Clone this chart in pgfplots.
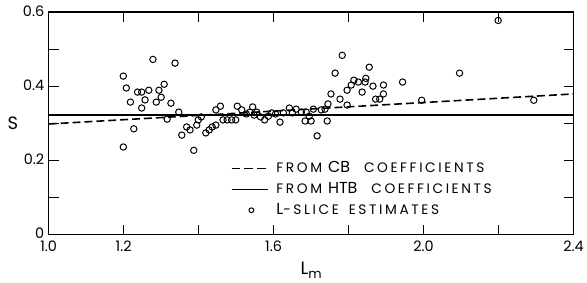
\documentclass[border=0pt]{standalone}
\usepackage{fontspec}
\setmainfont{Poppins}
\newfontfamily\legsmall[LetterSpace=19]{Poppins}
\usepackage{pgfplots}
\pgfplotsset{compat=1.18}
\newcommand{\sm}[1]{{\legsmall\fontsize{13.8bp}{13.8bp}\selectfont #1}}
\newcommand{\bg}[1]{{\fontsize{16bp}{16bp}\selectfont #1}}
\begin{document}
\begin{tikzpicture}
\path (-49bp,-48bp) rectangle (538bp,236bp);
\begin{axis}[
  at={(0,0)}, anchor=south west,
  scale only axis, width=528bp, height=224bp,
  xmin=1, xmax=2.4, ymin=0, ymax=0.6,
  axis line style={line width=1.4bp},
  xtick={1.0,1.2,1.4,1.6,1.8,2.0,2.2,2.4},
  xticklabels={1.0,1.2,,1.6,,2.0,,2.4},
  ytick={0,0.1,0.2,0.3,0.4,0.5,0.6},
  yticklabels={0,,0.2,,0.4,,0.6},
  major tick length=10bp,
  tick style={line width=1bp, black},
  tick align=inside,
  ticklabel style={font=\fontsize{14.5bp}{14.5bp}\selectfont},
  xticklabel style={yshift=-3bp},
  yticklabel style={xshift=-1bp, yshift=1bp},
  every axis y label/.style={at={(axis description cs:0,0.5)}, anchor=center, xshift=-36bp},
  every axis x label/.style={at={(axis description cs:0.5,0)}, anchor=north, yshift=-24bp},
  ylabel={\fontsize{18bp}{18bp}\selectfont S},
  xlabel={\fontsize{18bp}{18bp}\selectfont L\raisebox{-0.45ex}{\fontsize{13bp}{13bp}\selectfont m}},
  legend style={at={(axis cs:1.485,0.196)}, anchor=north west, draw=none, fill=none,
    inner sep=0pt, row sep=8bp, column sep=0pt,
    nodes={inner sep=0pt, text height=11bp, text depth=2bp, anchor=west}},
  legend cell align=left,
]
\addplot[black, line width=1.6bp, dash pattern=on 8bp off 4bp, forget plot] coordinates {(1.0,0.298) (2.4,0.379)};
\addplot[black, line width=1.7bp, forget plot] coordinates {(1.0,0.322) (2.4,0.322)};
\addplot[only marks, mark=o, mark size=3.2bp, mark options={black, line width=1bp}, forget plot] table {
x y
1.199 0.427
1.207 0.395
1.218 0.357
1.227 0.285
1.199 0.236
1.237 0.384
1.248 0.384
1.248 0.341
1.257 0.363
1.267 0.389
1.278 0.472
1.287 0.357
1.294 0.389
1.300 0.370
1.308 0.405
1.316 0.311
1.326 0.354
1.337 0.462
1.347 0.330
1.355 0.268
1.368 0.290
1.377 0.282
1.387 0.227
1.395 0.295
1.399 0.309
1.407 0.317
1.419 0.274
1.428 0.282
1.436 0.290
1.446 0.295
1.446 0.336
1.458 0.346
1.465 0.309
1.476 0.309
1.488 0.309
1.499 0.309
1.503 0.346
1.515 0.336
1.527 0.325
1.537 0.330
1.544 0.344
1.548 0.322
1.555 0.330
1.565 0.317
1.576 0.309
1.586 0.319
1.595 0.328
1.605 0.325
1.617 0.303
1.626 0.328
1.642 0.341
1.650 0.328
1.660 0.338
1.674 0.330
1.684 0.306
1.687 0.330
1.695 0.319
1.700 0.306
1.706 0.338
1.716 0.266
1.727 0.336
1.737 0.338
1.743 0.306
1.745 0.352
1.753 0.379
1.764 0.435
1.777 0.365
1.783 0.483
1.796 0.389
1.796 0.349
1.807 0.403
1.814 0.416
1.826 0.411
1.836 0.384
1.844 0.411
1.846 0.421
1.855 0.451
1.865 0.400
1.872 0.365
1.883 0.365
1.893 0.379
1.893 0.403
1.944 0.411
1.995 0.362
2.096 0.435
2.199 0.577
2.294 0.362
};
\addlegendimage{legend image code/.code={\draw[black, line width=1.5bp, dash pattern=on 9bp off 4bp] (0bp,0bp) -- (37bp,0bp); \path (45bp,0bp);}}
\addlegendentry{\sm{FROM}\hspace{6bp}\bg{CB}\hspace{14bp}\sm{COEFFICIENTS}}
\addlegendimage{legend image code/.code={\draw[black, line width=1.6bp] (0bp,0bp) -- (37bp,0bp); \path (45bp,0bp);}}
\addlegendentry{\sm{FROM}\hspace{6bp}\bg{HTB}\hspace{14bp}\sm{COEFFICIENTS}}
\addlegendimage{legend image code/.code={\draw[black, line width=1bp, mark=o, mark size=2.4bp] plot coordinates {(20bp,0bp)}; \path (0bp,0bp) (45bp,0bp);}}
\addlegendentry{\bg{L}\sm{-SLICE}\hspace{10bp}\sm{ESTIMATES}}
\end{axis}
\end{tikzpicture}
\end{document}
